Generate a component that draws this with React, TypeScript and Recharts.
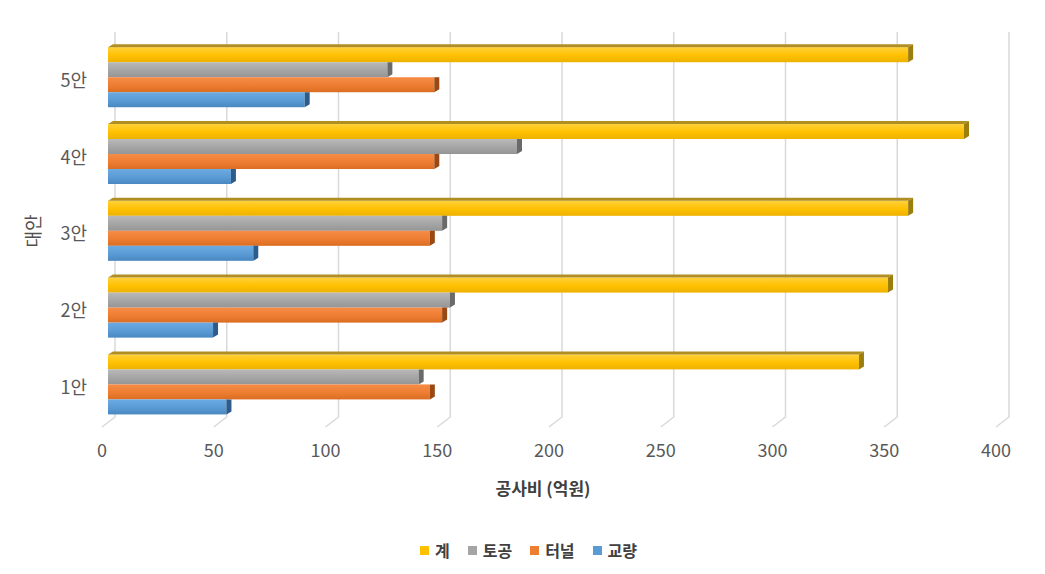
import React from 'react';
import { BarChart, Bar, XAxis, YAxis, CartesianGrid, Legend, Label } from 'recharts';

const categories = ['5안', '4안', '3안', '2안', '1안'];
const totalValues = [358, 383, 358, 349, 336];
const earthworkValues = [125, 183, 149.5, 153, 139];
const tunnelValues = [146, 146, 144, 149.5, 144];
const bridgeValues = [88, 55, 65, 47, 53];
const xTicks = [0, 50, 100, 150, 200, 250, 300, 350, 400];

const seriesNames = ['계', '토공', '터널', '교량'];
const seriesKeys = ['total', 'earthwork', 'tunnel', 'bridge'];

const data = categories.map((c, i) => ({
  name: c,
  total: totalValues[i],
  earthwork: earthworkValues[i],
  tunnel: tunnelValues[i],
  bridge: bridgeValues[i],
}));

const FONT = '"Noto Sans CJK KR", "Noto Sans", sans-serif';

const styles = [
  { id: 'gY', c0: '#FFD13A', c1: '#FFC000', c2: '#EDB200', top: '#B08E22', side: '#9C7E0C', legend: '#FFC000' },
  { id: 'gG', c0: '#B9B9B9', c1: '#A5A5A5', c2: '#959595', top: '#8A8A8A', side: '#6A6A6A', legend: '#A5A5A5' },
  { id: 'gO', c0: '#F68C47', c1: '#ED7D31', c2: '#DB6D22', top: '#B85A1E', side: '#9A4814', legend: '#ED7D31' },
  { id: 'gB', c0: '#6BAAE2', c1: '#5B9BD5', c2: '#4987C1', top: '#3E6F9E', side: '#2E5C8A', legend: '#5B9BD5' },
];

const DX = 5;
const DY = 3;

const make3D = (idx: number) => (props: any) => {
  const { x, y, width, height } = props;
  if (width == null || width <= 0) return <g />;
  const s = styles[idx];
  const isTop = idx === 0;
  const r = x + width;
  return (
    <g>
      <rect x={x} y={y} width={width} height={height} fill={`url(#${s.id})`} />
      {isTop && (
        <polygon
          points={`${x},${y} ${r},${y} ${r + DX},${y - DY} ${x + DX},${y - DY}`}
          fill={s.top}
        />
      )}
      {isTop ? (
        <polygon
          points={`${r},${y} ${r + DX},${y - DY} ${r + DX},${y + height - DY} ${r},${y + height}`}
          fill={s.side}
        />
      ) : (
        <polygon
          points={`${r},${y} ${r + DX},${y} ${r + DX},${y + height - DY} ${r},${y + height}`}
          fill={s.side}
        />
      )}
    </g>
  );
};

const GridLine = (props: any) => {
  const { x1, y1, y2, key } = props;
  return (
    <path
      key={key}
      d={`M${x1 + 7},${y1 - 6} L${x1 + 7},${y2 - 5} L${x1 - 6},${y2 + 5}`}
      stroke="#D9D9D9"
      strokeWidth={1.5}
      fill="none"
    />
  );
};

const XTick = (props: any) => {
  const { x, y, payload } = props;
  return (
    <text x={x - 6} y={y} dy="0.71em" textAnchor="middle" fill="#595959" fontSize={18} fontFamily={FONT}>
      {payload.value}
    </text>
  );
};

const YTick = (props: any) => {
  const { x, y, payload } = props;
  return (
    <text x={x} y={y + 4} dy="0.355em" textAnchor="end" fill="#595959" fontSize={18} fontFamily={FONT}>
      {payload.value}
    </text>
  );
};

const LegendContent = () => (
  <div
    style={{
      display: 'flex',
      justifyContent: 'center',
      alignItems: 'center',
      height: 24,
      paddingLeft: 12,
      fontFamily: FONT,
      fontSize: 16,
      fontWeight: 700,
      color: '#404040',
    }}
  >
    {seriesNames.map((n, i) => (
      <div key={n} style={{ display: 'flex', alignItems: 'center', marginRight: i < 3 ? 18 : 0 }}>
        <span style={{ display: 'inline-block', width: 9, height: 9, background: styles[i].legend, marginRight: 6 }} />
        <span>{n}</span>
      </div>
    ))}
  </div>
);

export default function App() {
  return (
    <div style={{ position: 'absolute', left: 0, top: 0, width: 1045, height: 574, background: '#fff' }}>
      <BarChart
        width={1045}
        height={574}
        data={data}
        layout="vertical"
        margin={{ top: 38, right: 43, left: 20, bottom: 55 }}
        barCategoryGap="12%"
        barGap={0}
      >
        <defs>
          {styles.map((s) => (
            <linearGradient key={s.id} id={s.id} x1="0" y1="0" x2="0" y2="1">
              <stop offset="0%" stopColor={s.c0} />
              <stop offset="55%" stopColor={s.c1} />
              <stop offset="100%" stopColor={s.c2} />
            </linearGradient>
          ))}
        </defs>
        <CartesianGrid horizontal={false} vertical={GridLine} />
        <XAxis
          type="number"
          domain={[0, 400]}
          ticks={xTicks}
          axisLine={false}
          tickLine={false}
          tickSize={6}
          tickMargin={16}
          tick={XTick}
          height={73}
          interval={0}
        >
          <Label
            content={(p: any) => {
              const vb = p.viewBox || { x: 108, y: 422, width: 894, height: 73 };
              return (
                <text
                  x={vb.x + vb.width / 2 - 12}
                  y={vb.y + 67}
                  dy="0.355em"
                  textAnchor="middle"
                  fill="#404040"
                  fontSize={17}
                  fontWeight={700}
                  fontFamily={FONT}
                >
                  공사비 (억원)
                </text>
              );
            }}
          />
        </XAxis>
        <YAxis
          type="category"
          dataKey="name"
          width={88}
          axisLine={false}
          tickLine={false}
          tickSize={6}
          tickMargin={15}
          tick={YTick}
          interval={0}
        >
          <Label
            content={(p: any) => {
              const vb = p.viewBox || { x: 20, y: 38, width: 88, height: 384 };
              const cx = vb.x + 14;
              const cy = vb.y + vb.height / 2 + 1;
              return (
                <text
                  x={cx}
                  y={cy}
                  dy="0.355em"
                  textAnchor="middle"
                  transform={`rotate(-90 ${cx} ${cy})`}
                  fill="#505050"
                  fontSize={18}
                  fontFamily={FONT}
                >
                  대안
                </text>
              );
            }}
          />
        </YAxis>
        <Legend
          content={LegendContent}
          wrapperStyle={{ top: 538, bottom: 'auto', left: 0, width: 1045, height: 24 }}
        />
        {seriesKeys.map((k, i) => (
          <Bar key={k} dataKey={k} name={seriesNames[i]} fill={styles[i].legend} shape={make3D(i)} isAnimationActive={false} />
        ))}
      </BarChart>
    </div>
  );
}
